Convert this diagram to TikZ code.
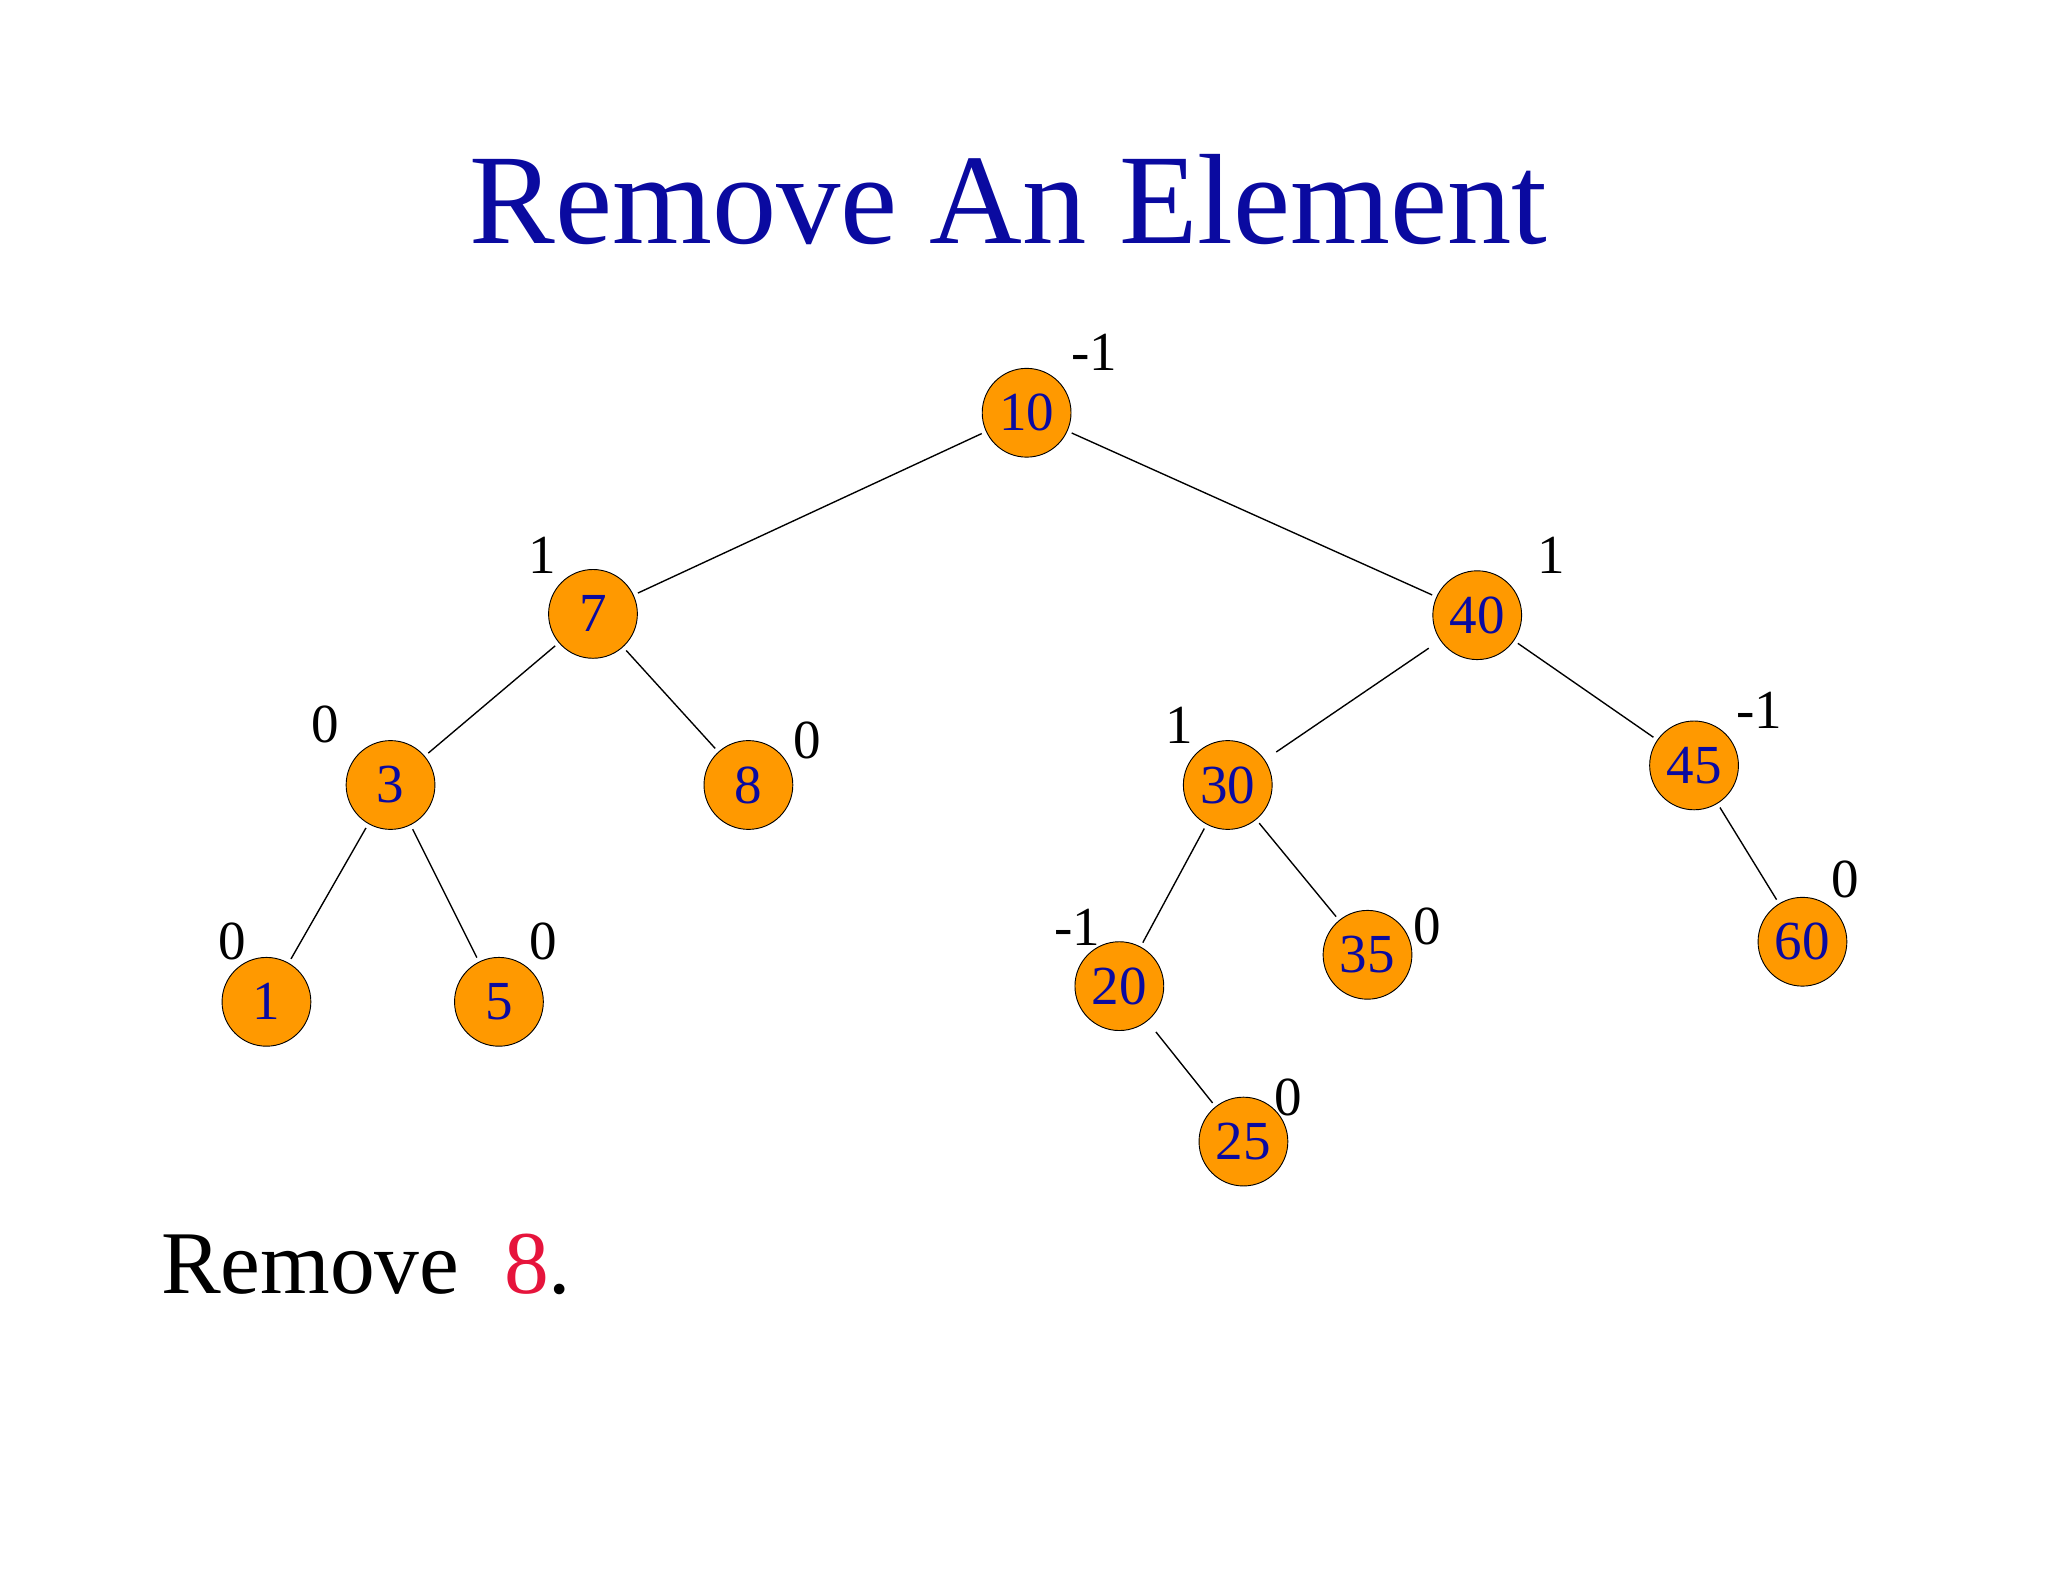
\documentclass[tikz,border=0pt]{standalone}
\usepackage{fontspec}
\setmainfont{Liberation Serif}
\definecolor{tblue}{RGB}{10,10,160}
\definecolor{norange}{RGB}{255,153,0}
\definecolor{nred}{RGB}{230,20,60}
\begin{document}
\begin{tikzpicture}[x=0.02cm,y=-0.02cm,
  nd/.style={circle,draw=black,fill=norange,minimum size=1.36cm,inner sep=0pt,text=tblue,font=\fontsize{24}{24}\selectfont},
  bf/.style={font=\fontsize{24}{24}\selectfont,inner sep=0pt},
  ed/.style={black,line width=0.6pt,shorten <=2pt,shorten >=2pt}]
\useasboundingbox (0,0) rectangle (1568,1211);
\node[text=tblue,font=\fontsize{56}{56}\selectfont] (title) at (772,153) {Remove An Element};
\node[anchor=base west,font=\fontsize{39}{39}\selectfont,inner sep=0pt] (rm) at (123,990) {Remove\ \ \textcolor{nred}{8}.};
\node[nd] (n10) at (786,316) {10};
\node[nd] (n7) at (454,470) {7};
\node[nd] (n40) at (1131,471) {40};
\node[nd] (n3) at (299,601) {3};
\node[nd] (n8) at (573,601) {8};
\node[nd] (n30) at (940,601) {30};
\node[nd] (n45) at (1297,586) {45};
\node[nd] (n1) at (204,767) {1};
\node[nd] (n5) at (382,767) {5};
\node[nd] (n20) at (857,755) {20};
\node[nd] (n35) at (1047,731) {35};
\node[nd] (n60) at (1380,721) {60};
\node[nd] (n25) at (952,874) {25};
\draw[ed] (n10)--(n7); \draw[ed] (n10)--(n40);
\draw[ed] (n7)--(n3); \draw[ed] (n7)--(n8);
\draw[ed,shorten <=6pt,shorten >=6pt] (n40)--(n30); \draw[ed] (n40)--(n45);
\draw[ed] (n3)--(n1); \draw[ed] (n3)--(n5);
\draw[ed] (n30)--(n20); \draw[ed] (n30)--(n35);
\draw[ed] (n45)--(n60);
\draw[ed,shorten <=6pt] (n20)--(n25);
\node[bf] (b10) at (838,270) {-1};
\node[bf] (b7) at (415,425) {1};
\node[bf] (b40) at (1188,425) {1};
\node[bf] (b3) at (249,555) {0};
\node[bf] (b8) at (618,567) {0};
\node[bf] (b30) at (903,555) {1};
\node[bf] (b45) at (1347,544) {-1};
\node[bf] (b1) at (178,721) {0};
\node[bf] (b5) at (416,721) {0};
\node[bf] (b20) at (825,710) {-1};
\node[bf] (b35) at (1093,709) {0};
\node[bf] (b60) at (1413,673) {0};
\node[bf] (b25) at (986,840) {0};
\end{tikzpicture}
\end{document}
